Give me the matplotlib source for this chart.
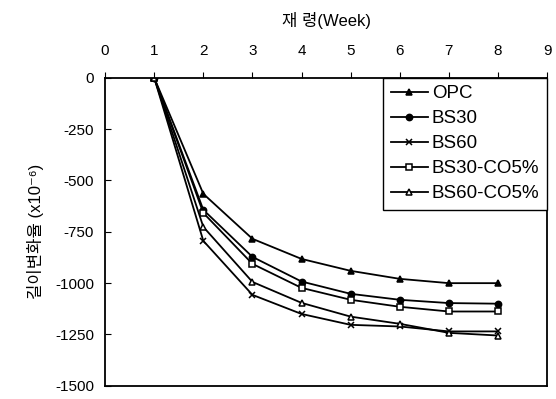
import numpy as np
import matplotlib
matplotlib.use('Agg')
import matplotlib.pyplot as plt

plt.rcParams['font.family'] = ['Liberation Sans', 'Noto Sans CJK KR', 'DejaVu Sans']
plt.rcParams['axes.unicode_minus'] = False

weeks = [1, 2, 3, 4, 5, 6, 7, 8]
opc = [0, -565, -784, -882, -940, -979, -1000, -1000]
bs30 = [0, -643, -872, -992, -1052, -1081, -1097, -1100]
bs60 = [0, -794, -1057, -1150, -1203, -1211, -1235, -1235]
bs30_co5 = [0, -658, -906, -1023, -1081, -1115, -1138, -1138]
bs60_co5 = [0, -726, -994, -1096, -1163, -1198, -1242, -1255]

series = [
    ('OPC', opc, '^', 'k'),
    ('BS30', bs30, 'o', 'k'),
    ('BS60', bs60, 'x', 'k'),
    ('BS30-CO5%', bs30_co5, 's', 'white'),
    ('BS60-CO5%', bs60_co5, '^', 'white'),
]

fig = plt.figure(figsize=(5.56, 3.99), dpi=100)
ax = fig.add_axes([0.189, 0.033, 0.795, 0.772])

for label, vals, marker, face in series:
    ax.plot(weeks, vals, color='k', lw=1.3, marker=marker, markersize=4.5,
            markerfacecolor=face, markeredgecolor='k', markeredgewidth=1.1, label=label)

ax.set_xlim(0, 9)
ax.set_ylim(-1500, 0)
ax.set_xticks(range(0, 10))
ax.set_yticks([0, -250, -500, -750, -1000, -1250, -1500])
ax.xaxis.tick_top()
ax.xaxis.set_label_position('top')
ax.tick_params(axis='x', direction='out', length=4, labelsize=11, pad=10)
ax.tick_params(axis='y', direction='in', length=4, labelsize=11, pad=8)
for s in ax.spines.values():
    s.set_linewidth(1.3)

ax.set_xlabel('재 령(Week)', fontsize=12, labelpad=13)
ax.set_ylabel('길이변화율 (x10⁻⁶)', fontsize=12, labelpad=8)

leg = ax.legend(loc='upper right', borderaxespad=0, fontsize=13.5, handlelength=2.0,
                handletextpad=0.2, labelspacing=0.42, fancybox=False, framealpha=1,
                borderpad=0.4)
leg.get_frame().set_edgecolor('k')
leg.get_frame().set_linewidth(1.0)

fig.savefig('out.png', dpi=100)
